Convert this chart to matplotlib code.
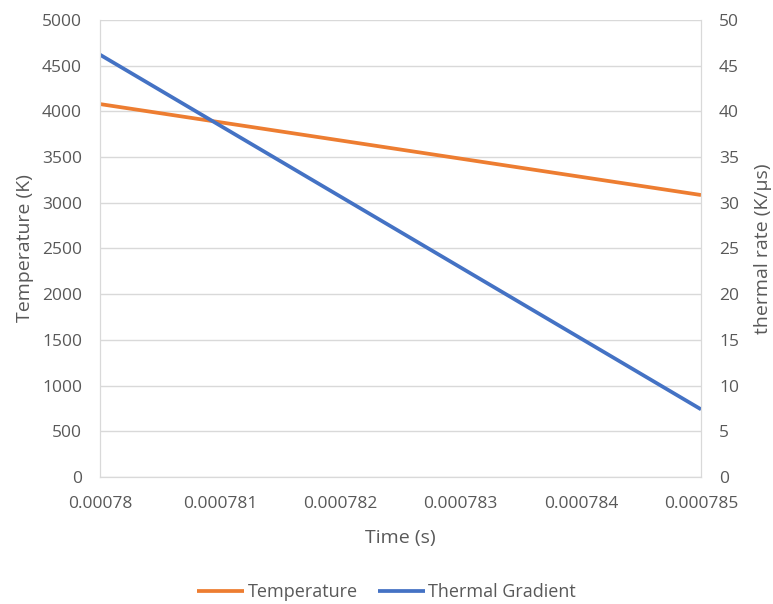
import matplotlib
matplotlib.use("Agg")
import matplotlib.pyplot as plt

# values
time_s = [0.00078, 0.000785]
temperature = [4080, 3085]
thermal_gradient = [46.2, 7.4]
x_ticks = [0.00078, 0.000781, 0.000782, 0.000783, 0.000784, 0.000785]
x_labels = ["0.00078", "0.000781", "0.000782", "0.000783", "0.000784", "0.000785"]

plt.rcParams['font.family'] = ['Open Sans', 'DejaVu Sans']
text_col = '#595959'
grid_col = '#D9D9D9'

fig = plt.figure(figsize=(7.73, 6.04), dpi=100)
ax = fig.add_axes([0.1294, 0.2103, 0.7775, 0.7566])
ax2 = ax.twinx()

l1, = ax.plot(time_s, temperature, color='#ED7D31', lw=2.7, solid_capstyle='butt', label='Temperature')
l2, = ax2.plot(time_s, thermal_gradient, color='#4472C4', lw=2.7, solid_capstyle='butt', label='Thermal Gradient')

ax.set_xlim(0.00078, 0.000785)
ax.set_ylim(0, 5000)
ax2.set_ylim(0, 50)
ax.set_yticks(range(0, 5001, 500))
ax2.set_yticks(range(0, 51, 5))
ax.set_xticks(x_ticks)
ax.set_xticklabels(x_labels)

ax.grid(axis='y', color=grid_col, lw=1)
ax.set_axisbelow(True)
for a in (ax, ax2):
    for s in a.spines.values():
        s.set_color(grid_col)
    a.spines['top'].set_visible(False)
    a.tick_params(length=0, labelsize=12.5, labelcolor=text_col, pad=13)
ax.tick_params(axis='x', pad=14)

ax.set_xlabel('Time (s)', fontsize=14, color=text_col, labelpad=12)
ax.set_ylabel('Temperature (K)', fontsize=14, color=text_col, labelpad=6)
ax2.set_ylabel('thermal rate (K/\u03bcs)', fontsize=14, color=text_col, labelpad=11)

fig.legend(handles=[l1, l2], loc='lower center', bbox_to_anchor=(0.5, -0.01), ncol=2,
           frameon=False, fontsize=13, labelcolor=text_col, handlelength=2.6,
           handletextpad=0.2, columnspacing=1.1, borderpad=0)

fig.savefig('out.png', dpi=100)
